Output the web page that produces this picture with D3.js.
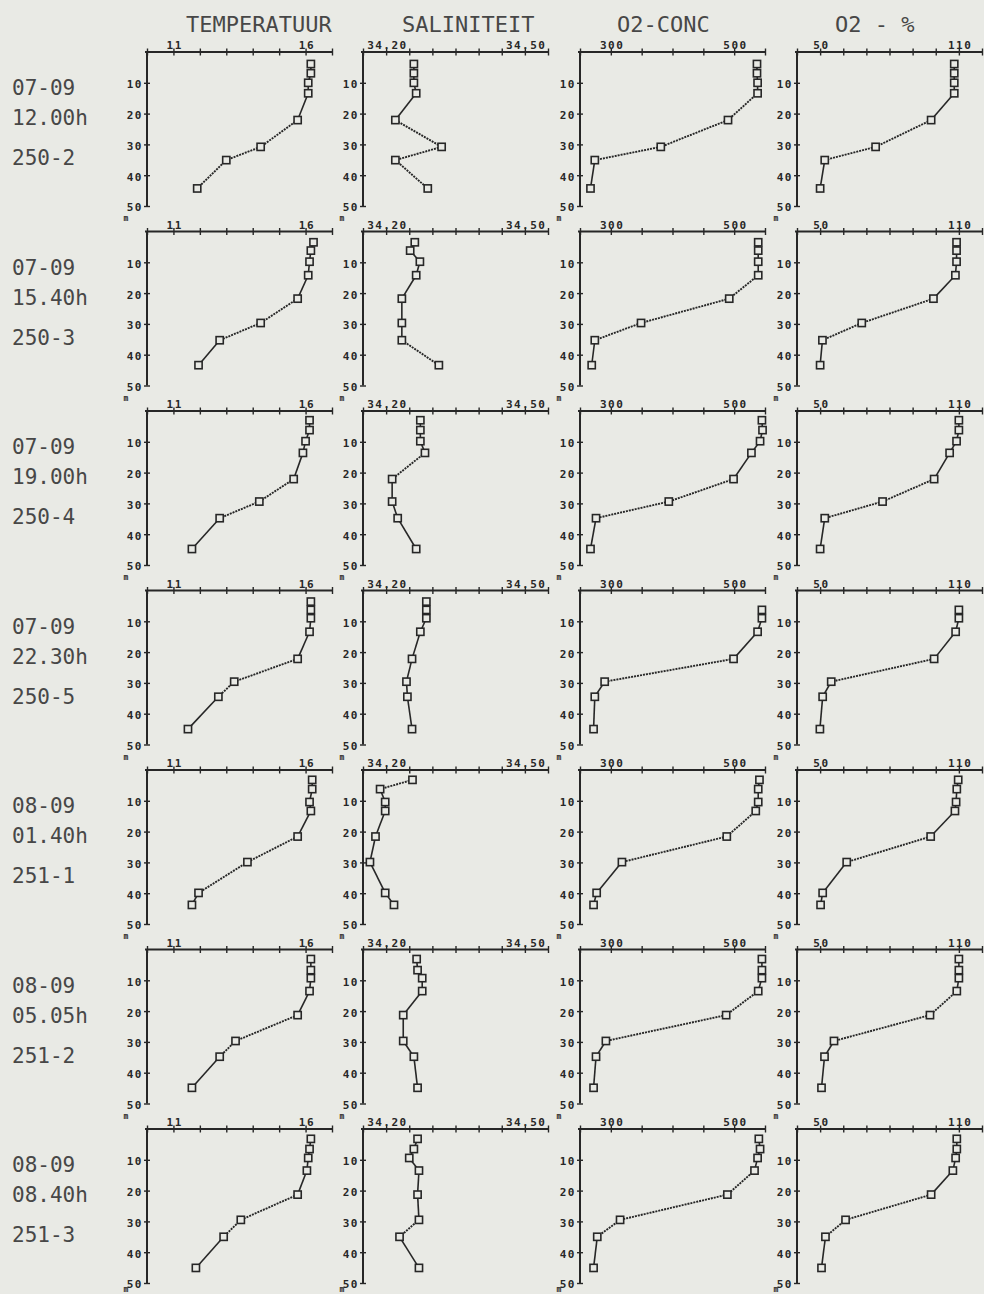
<!DOCTYPE html>
<html>
<head>
<meta charset="utf-8">
<script src="https://cdn.jsdelivr.net/npm/d3@7"></script>
<style>
  html, body { margin: 0; padding: 0; background: #e9eae5; }
  svg { display: block; }
</style>
</head>
<body>
<script>
// ---------------- DATA ----------------
const paramTitles = ["TEMPERATUUR", "SALINITEIT", "O2-CONC", "O2 - %"];
const xDomains = [[10, 17], [34.15, 34.55], [250, 550], [40, 120]];
const tickSteps = [1, 0.05, 50, 10];
const labelTicks = [[11, 16], [34.20, 34.50], [300, 500], [50, 110]];
const labelDecimals = [0, 2, 0, 0];
const depthTicks = [10, 20, 30, 40, 50];

const rowDates = ["07-09", "07-09", "07-09", "07-09", "08-09", "08-09", "08-09"];
const rowTimes = ["12.00h", "15.40h", "19.00h", "22.30h", "01.40h", "05.05h", "08.40h"];
const rowStations = ["250-2", "250-3", "250-4", "250-5", "251-1", "251-2", "251-3"];

const depths = [
  [3.9, 6.9, 10.0, 13.4, 22.1, 30.8, 35.1, 44.3],
  [3.5, 6.2, 9.8, 14.2, 21.8, 29.7, 35.3, 43.4],
  [3.0, 6.2, 9.8, 13.6, 22.1, 29.4, 34.8, 44.8],
  [3.6, 6.3, 9.0, 13.4, 22.2, 29.6, 34.5, 45.0],
  [3.2, 6.2, 10.4, 13.3, 21.6, 29.9, 39.9, 43.8],
  [3.1, 6.7, 9.3, 13.5, 21.3, 29.7, 34.8, 44.9],
  [3.2, 6.5, 9.4, 13.5, 21.3, 29.5, 35.0, 45.1]
];
const temperature = [
  [16.2, 16.2, 16.1, 16.1, 15.7, 14.3, 13.0, 11.9],
  [16.3, 16.2, 16.15, 16.1, 15.7, 14.3, 12.75, 11.95],
  [16.15, 16.15, 16.0, 15.9, 15.55, 14.25, 12.75, 11.7],
  [16.2, 16.2, 16.2, 16.15, 15.7, 13.3, 12.7, 11.55],
  [16.25, 16.25, 16.15, 16.2, 15.7, 13.8, 11.95, 11.7],
  [16.2, 16.2, 16.2, 16.15, 15.7, 13.35, 12.75, 11.7],
  [16.2, 16.15, 16.1, 16.05, 15.7, 13.55, 12.9, 11.85]
];
const salinity = [
  [34.26, 34.26, 34.26, 34.265, 34.22, 34.32, 34.22, 34.29],
  [34.262, 34.252, 34.273, 34.265, 34.234, 34.234, 34.234, 34.314],
  [34.274, 34.274, 34.274, 34.284, 34.213, 34.213, 34.225, 34.265],
  [34.287, 34.287, 34.287, 34.274, 34.256, 34.244, 34.246, 34.256],
  [34.257, 34.187, 34.198, 34.198, 34.177, 34.165, 34.198, 34.217],
  [34.266, 34.268, 34.278, 34.278, 34.237, 34.237, 34.260, 34.268],
  [34.268, 34.260, 34.250, 34.271, 34.268, 34.271, 34.229, 34.271]
];
const o2conc = [
  [537, 537, 538, 538, 490, 381, 274, 267],
  [539, 539, 539, 539, 492, 349, 274, 269],
  [545, 546, 542, 528, 499, 394, 276, 267],
  [null, 545, 545, 538, 499, 290, 274, 272],
  [541, 539, 539, 535, 488, 318, 277, 272],
  [545, 545, 545, 539, 487, 292, 276, 272],
  [540, 542, 538, 533, 489, 315, 278, 272]
];
const o2pct = [
  [108, 108, 108, 108, 98, 74, 52, 50],
  [109, 109, 109, 108.5, 99, 68, 51, 50],
  [110, 110, 109, 106, 99.3, 77, 52, 50],
  [null, 110, 110, 108.6, 99.3, 54.8, 51.1, 49.9],
  [109.7, 109.1, 108.8, 108.3, 97.8, 61.5, 51.1, 50.2],
  [110, 110, 110, 109.1, 97.5, 56, 51.9, 50.6],
  [109.1, 109.1, 108.6, 107.4, 98, 61, 52.3, 50.6]
];
const seriesByParam = [temperature, salinity, o2conc, o2pct];

// ---------------- LAYOUT ----------------
const W = 984, H = 1294;
const colLeft = [147, 363, 580, 797];
const titleX = [186, 402, 617, 835];
const panelW = 185, panelH = 154;
const rowTop0 = 52, rowStep = 179.5;
const ink = "#272727";
const textInk = "#474747";
const paper = "#e9eae5";

const svg = d3.select("body").append("svg").attr("width", W).attr("height", H);
svg.append("rect").attr("width", W).attr("height", H).attr("fill", paper);

// titles
paramTitles.forEach((t, c) => {
  svg.append("text")
    .attr("x", titleX[c]).attr("y", 32)
    .attr("font-family", "DejaVu Sans Mono, monospace")
    .attr("font-size", 22)
    .attr("fill", textInk)
    .text(t);
});

const y = d3.scaleLinear().domain([0, 50]).range([0, panelH]);

for (let r = 0; r < rowDates.length; r++) {
  const top = rowTop0 + r * rowStep;

  // row labels
  [[rowDates[r], 43], [rowTimes[r], 73], [rowStations[r], 113]].forEach(([t, dy]) => {
    svg.append("text")
      .attr("x", 12).attr("y", top + dy)
      .attr("font-family", "DejaVu Sans Mono, monospace")
      .attr("font-size", 21)
      .attr("fill", textInk)
      .text(t);
  });

  for (let c = 0; c < 4; c++) {
    const g = svg.append("g").attr("transform", `translate(${colLeft[c]},${top})`);
    const dom = xDomains[c];
    const x = d3.scaleLinear().domain(dom).range([0, panelW]);
    const nT = Math.round((dom[1] - dom[0]) / tickSteps[c]);
    const tv = d3.range(0, nT + 1).map(i => +(dom[0] + i * tickSteps[c]).toFixed(3));
    const lbl = labelTicks[c];

    // top axis
    const ax = g.append("g").call(
      d3.axisTop(x).tickValues(tv).tickSizeOuter(0).tickSize(3)
        .tickFormat(v => lbl.some(l => Math.abs(l - v) < 1e-6) ? v.toFixed(labelDecimals[c]) : "")
    );
    ax.select(".domain").attr("stroke", ink).attr("stroke-width", 2).attr("d", `M-2,0H${panelW}`);
    ax.selectAll(".tick line").attr("stroke", ink).attr("stroke-width", 1.4).attr("y1", 3.5).attr("y2", -3.5);
    ax.selectAll(".tick text")
      .attr("y", -3).attr("dy", 0)
      .attr("dx", 0.8)
      .attr("font-family", "DejaVu Sans Mono, monospace")
      .attr("font-weight", "bold")
      .attr("font-size", 11)
      .attr("letter-spacing", 1.5)
      .attr("fill", ink);

    // left axis
    const ay = g.append("g").call(
      d3.axisLeft(y).tickValues(depthTicks).tickSizeOuter(0).tickSize(3).tickFormat(d3.format("d"))
    );
    ay.select(".domain").attr("stroke", ink).attr("stroke-width", 2).attr("d", `M0,0V${panelH}`);
    ay.selectAll(".tick line").attr("stroke", ink).attr("stroke-width", 1.4).attr("x1", 3).attr("x2", -3);
    ay.selectAll(".tick text")
      .attr("x", -4).attr("dy", "0.45em")
      .attr("font-family", "DejaVu Sans Mono, monospace")
      .attr("font-weight", "bold")
      .attr("font-size", 11)
      .attr("letter-spacing", 1.5)
      .attr("fill", ink);

    // depth unit
    const mY = Math.min(top + panelH + 15, H - 2) - top;
    g.append("text")
      .attr("x", -21).attr("y", mY)
      .attr("text-anchor", "middle")
      .attr("font-family", "DejaVu Sans Mono, monospace")
      .attr("font-weight", "bold")
      .attr("font-size", 8)
      .attr("fill", ink)
      .text("m");

    // data
    const vals = seriesByParam[c][r];
    const pts = depths[r].map((d, i) => ({ d, v: vals[i] })).filter(p => p.v != null);
    const line = d3.line().x(p => x(p.v)).y(p => y(p.d));
    for (let i = 0; i < pts.length - 1; i++) {
      const a = pts[i], b = pts[i + 1];
      const dx = Math.abs(x(a.v) - x(b.v)), dyy = Math.abs(y(a.d) - y(b.d));
      const dotted = dx >= dyy;
      g.append("path")
        .attr("d", line([a, b]))
        .attr("fill", "none")
        .attr("stroke", ink)
        .attr("stroke-width", dotted ? 1.9 : 1.6)
        .attr("stroke-dasharray", dotted ? "2,1" : null);
    }
    g.selectAll("rect.pt").data(pts).join("rect")
      .attr("class", "pt")
      .attr("x", p => x(p.v) - 3.6)
      .attr("y", p => y(p.d) - 3.6)
      .attr("width", 7.2).attr("height", 7.2)
      .attr("fill", paper)
      .attr("stroke", ink)
      .attr("stroke-width", 1.6);
  }
}
</script>
</body>
</html>
